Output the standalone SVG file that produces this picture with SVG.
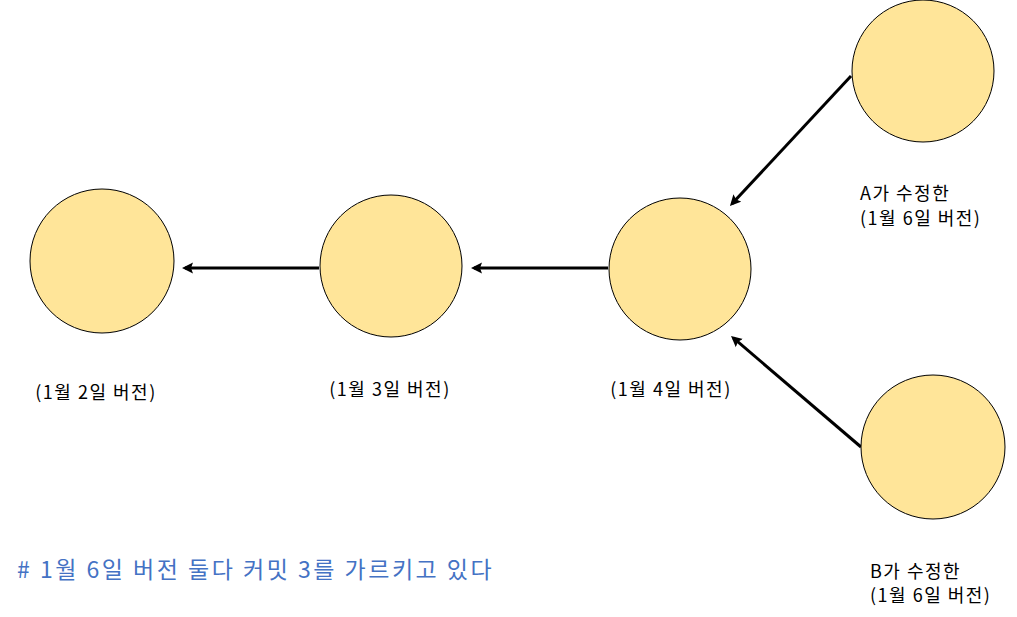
<svg xmlns="http://www.w3.org/2000/svg" width="1017" height="617" viewBox="0 0 1017 617">
<style>
.n{fill:#FFE599;stroke:#000;stroke-width:1}
.t{font-family:"Noto Sans CJK KR","Noto Sans",sans-serif;font-size:18px;letter-spacing:1.5px;fill:#000}
.c{stroke:#000;stroke-width:3;fill:none;marker-end:url(#ah)}
.note{font-family:"Noto Sans CJK KR","Noto Sans",sans-serif;font-size:23px;letter-spacing:2.5px;fill:#4472C4}
</style>
<defs>
<marker id="ah" markerWidth="12" markerHeight="12" refX="8" refY="6" orient="auto" markerUnits="userSpaceOnUse" viewBox="0 0 12 12">
<path d="M0,0.5 L11,6 L0,11.5 L2,6 Z" fill="#000"/>
</marker>
</defs>
<g id="connectors">
<line class="c" x1="319" y1="268" x2="185" y2="268"/>
<line class="c" x1="608" y1="268" x2="474" y2="268"/>
<line class="c" x1="851" y1="76" x2="732" y2="203.8"/>
<line class="c" x1="861" y1="447" x2="733.3" y2="337.9"/>
</g>
<g id="node-jan2">
<circle class="n" cx="102" cy="261" r="72"/>
<text class="t" x="96" y="399" text-anchor="middle">(1월 2일 버전)</text>
</g>
<g id="node-jan3">
<circle class="n" cx="391" cy="266" r="71"/>
<text class="t" x="390" y="396" text-anchor="middle">(1월 3일 버전)</text>
</g>
<g id="node-jan4">
<circle class="n" cx="680" cy="269" r="71"/>
<text class="t" x="671" y="396" text-anchor="middle">(1월 4일 버전)</text>
</g>
<g id="node-a">
<circle class="n" cx="923" cy="71" r="71"/>
<text class="t" x="860" y="200">A가 수정한</text>
<text class="t" x="860" y="225">(1월 6일 버전)</text>
</g>
<g id="node-b">
<circle class="n" cx="933" cy="447" r="72"/>
<text class="t" x="870" y="578">B가 수정한</text>
<text class="t" x="870" y="602">(1월 6일 버전)</text>
</g>
<g id="note">
<text class="note" x="17" y="578"># 1월 6일 버전 둘다 커밋 3를 가르키고 있다</text>
</g>
</svg>
